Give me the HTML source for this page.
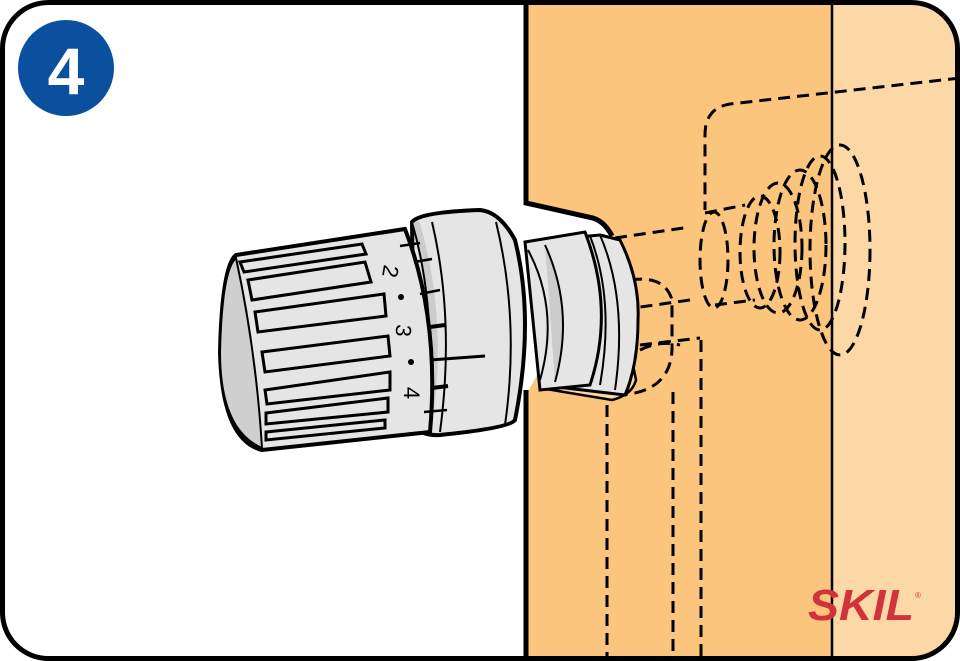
<!DOCTYPE html>
<html><head><style>html,body{margin:0;padding:0;background:#fff}svg{display:block}</style></head>
<body>
<svg width="960" height="661" viewBox="0 0 960 661" xmlns="http://www.w3.org/2000/svg">
<defs><clipPath id="fr"><rect x="2" y="2" width="956" height="657" rx="46"/></clipPath></defs>
<g clip-path="url(#fr)">
<rect width="960" height="661" fill="#fff"/>
<path d="M526 0 H960 V661 H526 V395 L612 240 L600 222 L526 203 Z" fill="#FCC57E"/>
<rect x="832" y="0" width="130" height="661" fill="#FDD8A7"/>
<line x1="832" y1="0" x2="832" y2="661" stroke="#000" stroke-width="2.5"/>
<path d="M526 0 V203 L593 218 Q605 222 612 236" fill="none" stroke="#000" stroke-width="5"/>
<line x1="526" y1="390" x2="526" y2="661" stroke="#000" stroke-width="5"/>
<g fill="none" stroke="#000" stroke-width="3" stroke-dasharray="12 7">
<path d="M960 78 L730 104 Q705 108 705 135 V210"/>
<path d="M615 238 L690 227 M690 300 L605 312 M640 345 L700 338"/>
<path d="M607 405 V661 M673 392 V661 M701 340 V661"/>
<path d="M630 280 Q665 275 672 300 V350 Q670 392 620 395 M640 350 Q660 340 680 345"/>
<ellipse cx="714" cy="260" rx="14" ry="48"/>
<path d="M705 213 L745 205 M715 305 L755 300"/>
<ellipse cx="760" cy="252" rx="20" ry="56"/>
<ellipse cx="778" cy="248" rx="24" ry="65"/>
<ellipse cx="800" cy="245" rx="26" ry="75"/>
<ellipse cx="820" cy="243" rx="25" ry="87"/>
<ellipse cx="840" cy="250" rx="30" ry="105"/>
</g>
<path d="M540 388 L612 400 Q632 395 636 380 L632 360 L545 370 Z" fill="#FDD8A7" stroke="#000" stroke-width="2.5"/>
<path d="M600 235 L620 240 Q640 280 638 320 Q638 365 625 395 L540 385 Q530 310 545 240 Z" fill="#e5e5e5" stroke="#000" stroke-width="3"/>
<path d="M600 235 Q628 300 615 390" fill="none" stroke="#000" stroke-width="2"/>
<path d="M590 236 Q615 300 600 385" fill="none" stroke="#000" stroke-width="2"/>
<path d="M525 242 L585 232 Q615 310 590 385 L540 390 Z" fill="#e5e5e5" stroke="#000" stroke-width="3"/>
<path d="M528 250 Q560 310 540 380" fill="none" stroke="#000" stroke-width="2"/>
<path d="M545 245 Q575 310 555 382" fill="#ccc" stroke="#000" stroke-width="2"/>
<path d="M412 222 Q420 212 480 210 Q500 212 515 240 Q535 320 515 420 Q510 428 440 435 Q420 436 415 425 Z" fill="#e5e5e5" stroke="#000" stroke-width="4"/>
<path d="M416 222 Q445 320 428 430" fill="none" stroke="#ccc" stroke-width="7"/>
<path d="M412 222 Q440 320 424 432" fill="none" stroke="#000" stroke-width="2"/>
<path d="M432 222 Q455 320 440 432" fill="none" stroke="#000" stroke-width="2"/>
<path d="M496 222 Q520 320 505 425" fill="none" stroke="#000" stroke-width="2"/>
<path d="M236 255 L405 229 Q440 320 430 432 L262 450 Q222 440 220 352 Q222 265 236 255 Z" fill="#e5e5e5" stroke="#000" stroke-width="4"/>
<path d="M236 258 Q256 350 262 448 Q220 430 220 352 Q222 270 236 258 Z" fill="#cfcfcf" stroke="#000" stroke-width="2"/>
<g fill="#e5e5e5" stroke="#000" stroke-width="3">
<path d="M240 262 L362 244 L366 254 L244 272 Z"/>
<path d="M248 280 L365 262 L371 282 L252 300 Z"/>
<path d="M255 312 L384 294 L386 316 L258 332 Z"/>
<path d="M262 352 L388 336 L390 356 L265 372 Z"/>
<path d="M265 390 L390 372 L390 390 L267 404 Z"/>
<path d="M266 413 L388 398 L388 412 L266 424 Z"/>
<path d="M266 432 L385 420 L385 428 L266 440 Z"/>
</g>
<g stroke="#000" stroke-width="2.5">
<line x1="400" y1="246" x2="420" y2="243"/>
<line x1="414" y1="262" x2="432" y2="259"/>
<line x1="420" y1="294" x2="440" y2="290"/>
<line x1="430" y1="327" x2="445" y2="325" stroke-width="4"/>
<line x1="430" y1="360" x2="485" y2="356" stroke-width="3"/>
<line x1="432" y1="388" x2="448" y2="386" stroke-width="4"/>
<line x1="424" y1="412" x2="447" y2="410"/>
</g>
<circle cx="401" cy="297" r="3"/><circle cx="411" cy="362" r="3"/>
<g font-family="Liberation Sans, sans-serif" font-size="22" fill="#000">
<text transform="translate(383,270) rotate(100)" text-anchor="middle">2</text>
<text transform="translate(396,330) rotate(95)" text-anchor="middle">3</text>
<text transform="translate(404,393) rotate(90)" text-anchor="middle">4</text>
</g>
</g>
<rect x="2.5" y="2.5" width="955" height="656" rx="46" fill="none" stroke="#000" stroke-width="5"/>
<circle cx="66" cy="68" r="48" fill="#0B4F9F"/>
<text x="66" y="94" text-anchor="middle" font-family="Liberation Sans, sans-serif" font-weight="bold" font-size="66" fill="#fff">4</text>
<text x="808" y="620" textLength="106" lengthAdjust="spacingAndGlyphs" font-family="Liberation Sans, sans-serif" font-weight="bold" font-style="italic" font-size="44" fill="#D2323A">SKIL</text>
<text x="915" y="598" font-family="Liberation Sans, sans-serif" font-size="8" fill="#D2323A">®</text>
</svg>
</body></html>
